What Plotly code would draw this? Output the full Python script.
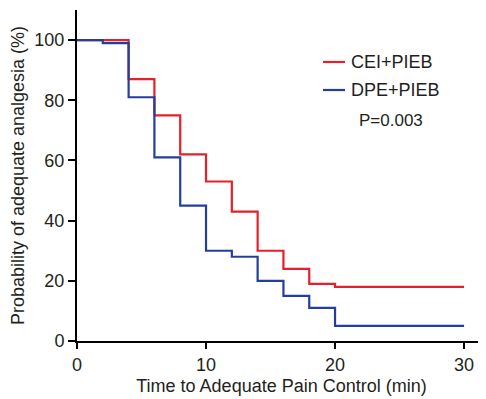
import plotly.graph_objects as go

# Kaplan-Meier style step data (time in min, probability in %)
cei_time = [0, 4, 6, 8, 10, 12, 14, 16, 18, 20, 30]
cei_prob = [100, 87, 75, 62, 53, 43, 30, 24, 19, 18, 18]

dpe_time = [0, 2, 4, 6, 8, 10, 12, 14, 16, 18, 20, 30]
dpe_prob = [100, 99, 81, 61, 45, 30, 28, 20, 15, 11, 5, 5]

x_ticks = [0, 10, 20, 30]
y_ticks = [0, 20, 40, 60, 80, 100]

series_names = ["CEI+PIEB", "DPE+PIEB"]
p_text = "P=0.003"

RED = "#E5202A"
BLUE = "#233F9C"
TXT = "#231f20"
FONT = "Liberation Sans, Arial, sans-serif"

# the page body has an 8px margin, so the figure is sized/offset to compensate
OFF = 8
W, H = 486 - OFF, 399 - OFF
L, R, T, B = 77 - OFF, 0, 10 - OFF, 399 - 341
PW, PH = W - L - R, H - T - B


def px(xpage):
    return (xpage - OFF - L) / PW


def py(ypage):
    return (H - B - (ypage - OFF)) / PH


fig = go.Figure()
fig.add_trace(go.Scatter(x=cei_time, y=cei_prob, mode="lines", name=series_names[0],
                         line=dict(color=RED, width=2.2, shape="hv"), showlegend=False))
fig.add_trace(go.Scatter(x=dpe_time, y=dpe_prob, mode="lines", name=series_names[1],
                         line=dict(color=BLUE, width=2.2, shape="hv"), showlegend=False))

# legend drawn manually to match the reference's short key lines
for name, col, ypix in [(series_names[0], RED, 62), (series_names[1], BLUE, 90)]:
    fig.add_shape(type="line", xref="paper", yref="paper",
                  x0=px(323), x1=px(345), y0=py(ypix), y1=py(ypix),
                  line=dict(color=col, width=2.2))
    fig.add_annotation(xref="paper", yref="paper", x=px(349), y=py(ypix),
                       xanchor="left", yanchor="middle", text=name, showarrow=False,
                       font=dict(size=18, color=TXT, family=FONT))

fig.add_annotation(xref="paper", yref="paper", x=px(391), y=py(120),
                   xanchor="center", yanchor="middle", text=p_text, showarrow=False,
                   font=dict(size=17, color=TXT, family=FONT))

fig.update_layout(
    width=W, height=H,
    margin=dict(l=L, r=R, t=T, b=B, autoexpand=False),
    paper_bgcolor="white", plot_bgcolor="white",
    font=dict(family=FONT, size=18, color=TXT),
    showlegend=False,
    xaxis=dict(range=[0, 31.7], tickvals=x_ticks, showgrid=False, zeroline=False,
               showline=True, linecolor="black", linewidth=2, automargin=False,
               ticks="outside", ticklen=6, tickwidth=2, tickcolor="black",
               tickfont=dict(size=18),
               title=dict(text="Time to Adequate Pain Control (min)", standoff=6,
                          font=dict(size=18))),
    yaxis=dict(range=[0, 110], tickvals=y_ticks, showgrid=False, zeroline=False,
               showline=True, linecolor="black", linewidth=2, automargin=False,
               ticks="outside", ticklen=7, tickwidth=2, tickcolor="black",
               tickfont=dict(size=18),
               title=dict(text="Probability of adequate analgesia (%)", standoff=6,
                          font=dict(size=18))),
)

fig.write_html("out.html")
